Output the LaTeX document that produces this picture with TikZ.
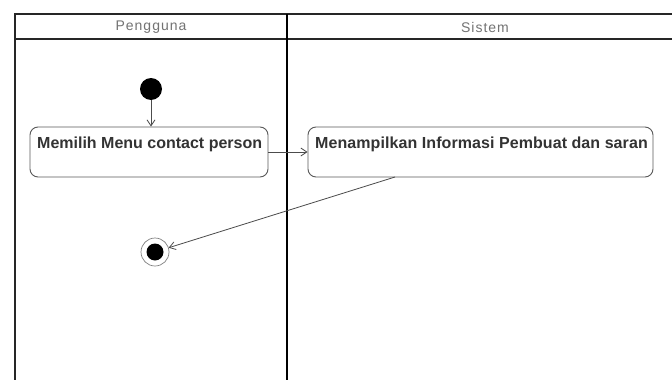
\documentclass[tikz,border=0pt]{standalone}
\usepackage{fontspec}
\setmainfont{Liberation Sans}
\usetikzlibrary{arrows.meta}
\begin{document}
\begin{tikzpicture}[x=1pt,y=-1pt,
  lane/.style={line width=1.6pt,draw=black!85},
  act/.style={draw=black!65,line width=0.9pt,rounded corners=8pt},
  acttext/.style={font=\bfseries\fontsize{16}{18}\selectfont,text=black!80,anchor=west,inner sep=0pt},
  head/.style={font=\fontsize{14}{15}\selectfont\addfontfeatures{LetterSpace=7},text=black!55,inner sep=0pt},
  flow/.style={draw=black!70,line width=0.8pt,-{Straight Barb[length=6pt,width=8pt]}}]
\useasboundingbox (0,0) rectangle (672,380);
\fill[white] (0,0) rectangle (672,380);
% swimlanes
\draw[lane] (672,14) -- (15,14) -- (15,380);
\draw[lane] (15,39) -- (672,39);
\draw[line width=2.6pt,black] (287,14) -- (287,380);
\node[head] (h1) at (151,27) {Pengguna};
\node[head] (h2) at (485,27) {Sistem};
% start
\node[circle,fill=black,minimum size=22pt,inner sep=0pt] (start) at (151,89) {};
% activities
\node[act,minimum width=238pt,minimum height=50pt] (a1) at (149,152) {};
\node[acttext] (t1) at (37,144) {Memilih Menu contact person};
\node[act,minimum width=345pt,minimum height=50pt] (a2) at (480.5,152) {};
\node[acttext,font=\bfseries\fontsize{16}{18}\selectfont\addfontfeatures{LetterSpace=0.5}] (t2) at (315,144) {Menampilkan Informasi Pembuat dan saran};
% end
\node[circle,draw=black!50,line width=0.7pt,minimum size=28pt,inner sep=0pt] (end) at (155,252) {};
\node[circle,fill=black,minimum size=17pt,inner sep=0pt] (endin) at (155,252) {};
% flows
\draw[flow] (start) -- (a1.north -| start);
\draw[flow] (a1.east) -- (a2.west);
\coordinate (s2) at (395,177);
\draw[flow] (s2) -- (end);
\end{tikzpicture}
\end{document}
